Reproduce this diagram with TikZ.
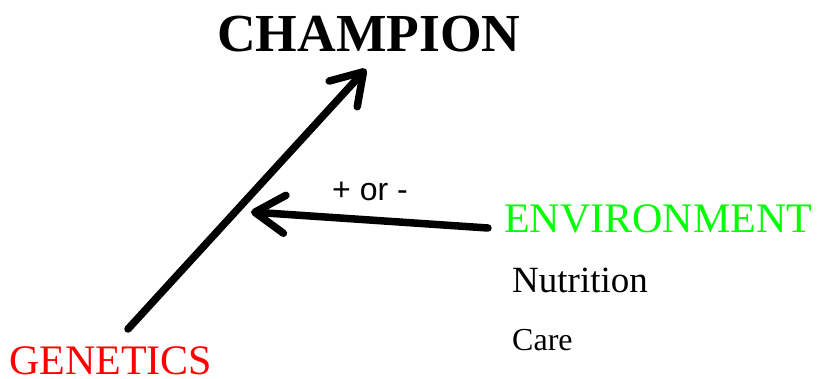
\documentclass[tikz,border=0pt]{standalone}
\usepackage{fontspec}
\setmainfont{Liberation Serif}
\newfontfamily\plusfont{Liberation Sans}
\usepackage{xcolor}
\usetikzlibrary{positioning,arrows.meta}
\definecolor{envgreen}{RGB}{0,255,0}
\tikzset{
  word/.style={anchor=base west, inner sep=0pt},
  title/.style={word, font=\fontsize{53.5}{60}\selectfont\bfseries},
  big/.style={word, font=\fontsize{42}{48}\selectfont},
  sub/.style={word, font=\fontsize{37}{42}\selectfont},
  infl/.style={draw=black, line width=7.5pt, line cap=round,
    -{Straight Barb[length=30pt, width=38pt, line cap=round, line join=round]}}
}
\begin{document}
\begin{tikzpicture}[x=1pt, y=-1pt]
    \useasboundingbox (0,0) rectangle (823,379);
    \node[title] (champ) at (217,52) {CHAMPION};
    \node[big, text=red] (gen) at (9,375) {GENETICS};
    \node[big, text=envgreen] (env) at (504,233) {ENVIRONMENT};
    \node[sub] (nutr) at (512,293) {Nutrition};
    \node[sub, font=\fontsize{32}{36}\selectfont] (care) at (512,351) {Care};
    \node[word, font=\plusfont\fontsize{32}{36}\selectfont] (sign) at (332,201) {+ or -};
    \coordinate (gstart) at (128,329);
    \coordinate (ctip) at (366,69);
    \coordinate (estart) at (488,228);
    \coordinate (etip) at (251,212);
    \draw[infl] (gstart)--(ctip);
    \draw[infl] (estart)--(etip);
  \end{tikzpicture}
\end{document}
